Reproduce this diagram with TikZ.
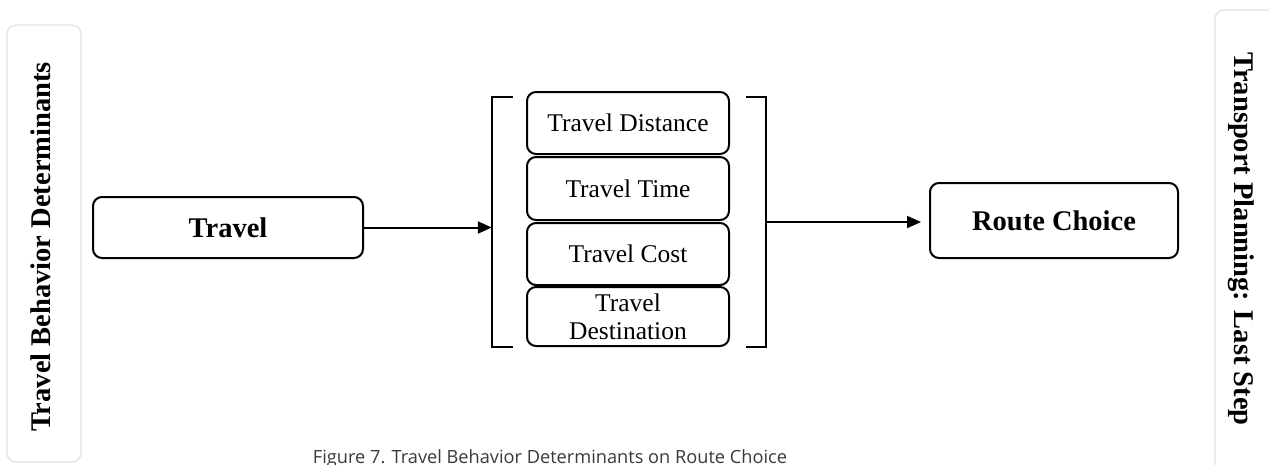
\documentclass[tikz,border=0pt]{standalone}
\usepackage{fontspec}
\setmainfont{Liberation Serif}
\newfontfamily\capfont{Open Sans}
\usetikzlibrary{arrows.meta,calc}
\definecolor{panelgray}{HTML}{E2E2E2}
\definecolor{capgray}{HTML}{3A3A3A}
\tikzset{
  box/.style={draw, line width=2pt, rounded corners=9pt, align=center, inner sep=0pt},
  bigtext/.style={font=\fontsize{28.5}{30}\selectfont\bfseries},
  smalltext/.style={font=\fontsize{25.5}{28}\selectfont},
  panel/.style={draw=panelgray, line width=1.3pt, rounded corners=9pt},
  flow/.style={line width=2pt, -{Triangle[length=14pt,width=12pt]}},
  brackline/.style={line width=2.3pt},
}
\begin{document}
\begin{tikzpicture}[x=1pt,y=-1pt]
\useasboundingbox (0,0) rectangle (1269,464);
\clip (0,0) rectangle (1269,464);
\fill[white] (0,0) rectangle (1269,464);
% side panels
\draw[panel] (7,25) rectangle (81,462);
\draw[panel] (1215,10) rectangle (1300,490);
\node[bigtext, rotate=90] (lefttxt) at (41,247) {Travel Behavior Determinants};
\node[bigtext, rotate=-90] (righttxt) at (1241,239) {Transport Planning: Last Step};
% main boxes
\node[box, bigtext, minimum width=270pt, minimum height=61pt] (travel) at (228,227.5) {Travel};
\node[box, bigtext, minimum width=248pt, minimum height=75pt] (route) at (1054,220.5) {Route Choice};
% stacked factors
\node[box, smalltext, minimum width=202pt, minimum height=62pt] (dist) at (628,123) {Travel Distance};
\node[box, smalltext, minimum width=202pt, minimum height=63pt] (time) at (628,188.5) {Travel Time};
\node[box, smalltext, minimum width=202pt, minimum height=62pt] (cost) at (628,254) {Travel Cost};
\node[box, smalltext, minimum width=202pt, minimum height=59pt] (dest) at (628,316.5) {Travel\\Destination};
% bracket frame
\node[minimum width=274pt, minimum height=250pt, inner sep=0pt] (brk) at (629,222) {};
\draw[brackline] ($(brk.north west)+(21,0)$) -- (brk.north west) -- (brk.south west) -- ($(brk.south west)+(21,0)$);
\draw[brackline] ($(brk.north east)+(-20,0)$) -- (brk.north east) -- (brk.south east) -- ($(brk.south east)+(-20,0)$);
% connectors
\draw[flow] (travel.east) -- (travel.east -| brk.west);
\draw[flow] (brk.east) -- ($(brk.east -| route.west)+(-8,0)$);
% caption
\node[font=\capfont\fontsize{18.2}{20}\selectfont, text=capgray, anchor=base] (cap) at (550,463) {Figure 7. Travel Behavior Determinants on Route Choice};
\end{tikzpicture}
\end{document}
